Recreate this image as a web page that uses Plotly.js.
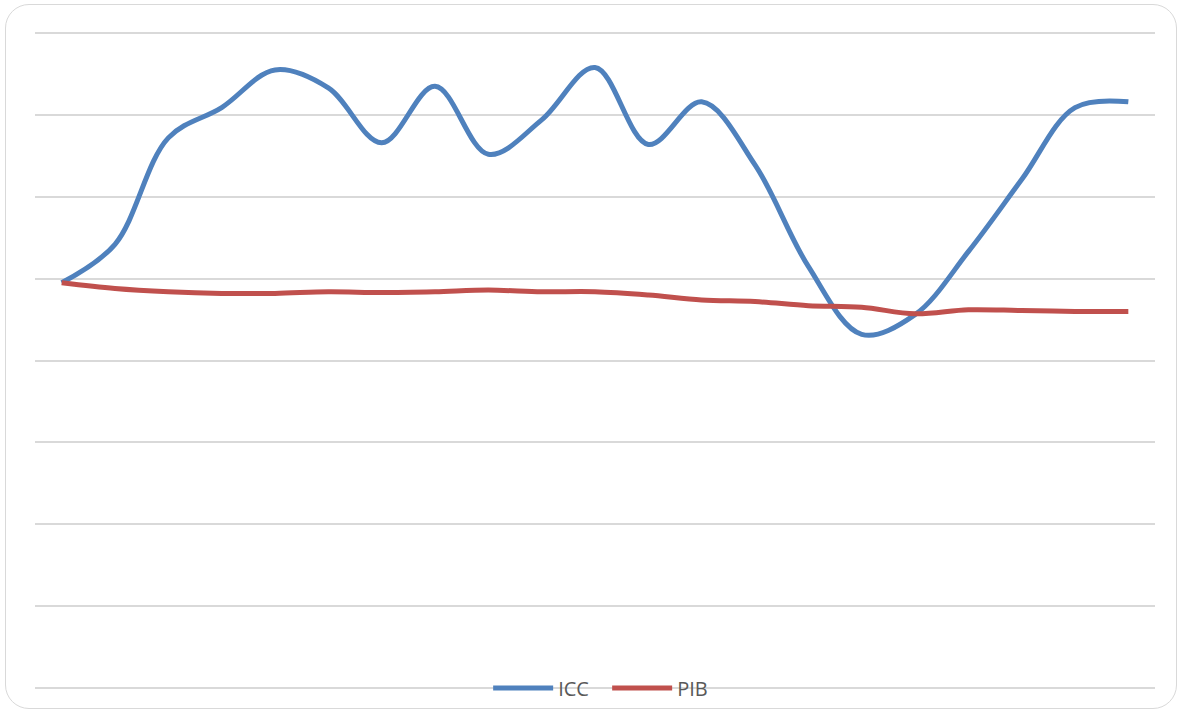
<!DOCTYPE html>
<html>
<head>
<meta charset="utf-8">
<script src="https://cdn.plot.ly/plotly-3.0.1.min.js"></script>
<style>
  html, body { margin: 0; padding: 0; background: #ffffff; }
  #frame {
    position: absolute; left: 5px; top: 4px; width: 1172px; height: 705px;
    border: 1.5px solid #d9d9d9; border-radius: 24px; box-sizing: border-box;
  }
  #chart { position: absolute; left: 0; top: 0; width: 1181px; height: 713px; }
</style>
</head>
<body>
<div id="frame"></div>
<div id="chart"></div>
<script>
// Periods (unlabelled categories in the original)
const periodos = [1,2,3,4,5,6,7,8,9,10,11,12,13,14,15,16,17,18,19,20,21];
// Series values (arbitrary units)
const icc = [-0.5, 4.2, 17.2, 20.9, 25.5, 23.3, 16.6, 23.5, 15.2, 19.4, 25.8, 16.4, 21.6, 13.9, 1.5, -6.8, -4.4, 3.3, 12.1, 20.9, 21.6];
const pib = [-0.5, -1.2, -1.6, -1.8, -1.8, -1.6, -1.7, -1.6, -1.4, -1.6, -1.6, -2.0, -2.6, -2.8, -3.3, -3.5, -4.3, -3.8, -3.9, -4.0, -4.0];

const traces = [
  { x: periodos, y: icc, name: 'ICC', type: 'scatter', mode: 'lines',
    line: { color: '#4F81BD', width: 5, shape: 'spline', smoothing: 1 } },
  { x: periodos, y: pib, name: 'PIB', type: 'scatter', mode: 'lines',
    line: { color: '#C0504D', width: 5, shape: 'spline', smoothing: 1 } }
];

const layout = {
  width: 1181, height: 713,
  margin: { l: 35, r: 26, t: 29, b: 21, autoexpand: false },
  paper_bgcolor: 'rgba(0,0,0,0)',
  plot_bgcolor: 'rgba(0,0,0,0)',
  showlegend: true,
  legend: {
    orientation: 'h', x: 0.4046, xanchor: 'left', y: 0.006, yanchor: 'middle',
    bgcolor: 'rgba(0,0,0,0)', itemwidth: 60,
    entrywidth: 44, entrywidthmode: 'pixels',
    font: { family: 'Open Sans, sans-serif', size: 20, color: '#595959' }
  },
  xaxis: {
    type: 'linear', range: [0.5, 21.5], showgrid: false, zeroline: false,
    showticklabels: false, ticks: '', showline: false, fixedrange: true
  },
  yaxis: {
    range: [-50.5, 30.5], dtick: 10, tick0: 0, showgrid: true, gridcolor: '#d9d9d9',
    gridwidth: 2, zeroline: false, showticklabels: false, ticks: '', showline: false
  },
  font: { family: 'Open Sans, sans-serif', color: '#595959' }
};

Plotly.newPlot('chart', traces, layout, { displayModeBar: false, staticPlot: true });
</script>
</body>
</html>
